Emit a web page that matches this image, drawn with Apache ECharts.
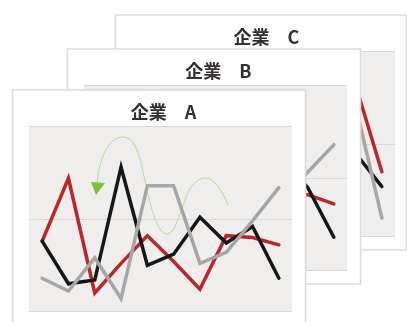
<!DOCTYPE html>
<html>
<head>
<meta charset="utf-8">
<script src="https://cdn.jsdelivr.net/npm/echarts@6/dist/echarts.min.js"></script>
<style>html,body{margin:0;padding:0;background:#fff;}#c{width:407px;height:322px;}</style>
</head>
<body>
<div id="c"></div>
<script>
// ---- data ----
var categories = ['1','2','3','4','5','6','7','8','9','10'];
var cardTitles = ['企業　A', '企業　B', '企業　C'];
var seriesNames = ['赤', '黒', '灰'];
// 企業 A
var aRed   = [38, 72, 10, 26, 41, 27, 12, 41, 40, 36];
var aBlack = [38, 15, 17, 78, 25, 31, 51, 37, 46, 18];
var aGray  = [18, 11, 29, 7, 68, 68, 26, 32, 49, 67];
// 企業 B (only the right end is visible)
var bRed   = [null, null, null, null, null, null, null, 42, 41, 36];
var bBlack = [null, null, null, null, null, null, null, 60, 45, 18];
var bGray  = [null, null, null, null, null, null, null, 38, 53, 68];
// 企業 C (only the right end is visible)
var cRed   = [null, null, null, null, null, null, null, 100, 82, 35];
var cBlack = [null, null, null, null, null, null, null, 55, 45, 27];
var cGray  = [null, null, null, null, null, null, null, 100, 71, 10];
var yTicks = [0, 50, 100];

var colors = {red: '#b8282a', black: '#161616', gray: '#a6a6a6'};

// card layouts
var cards = [
  {x: 12.5, y: 90, w: 293, h: 250, z: 30, data: [aRed, aBlack, aGray]},
  {x: 67.5, y: 49, w: 293, h: 235, z: 20, data: [bRed, bBlack, bGray]},
  {x: 115.5, y: 15, w: 291, h: 235, z: 10, data: [cRed, cBlack, cGray]}
];

var grids = [], xAxes = [], yAxes = [], series = [], graphics = [];
cards.forEach(function (c, i) {
  graphics.push({
    type: 'rect', z: c.z, silent: true,
    shape: {x: c.x, y: c.y, width: c.w, height: c.h},
    style: {fill: '#ffffff', stroke: '#dcdcdc', lineWidth: 1.5}
  });
  graphics.push({
    type: 'text', z: c.z + 1, silent: true,
    x: c.x + 151, y: c.y + 22,
    style: {text: cardTitles[i], font: 'bold 18px "Noto Sans CJK JP", sans-serif',
            fill: '#383030', align: 'center', verticalAlign: 'middle'}
  });
  grids.push({
    left: c.x + 16.5, top: c.y + 36.5, width: 263, height: 185,
    show: true, backgroundColor: '#efeeed', borderWidth: 0, z: c.z + 1
  });
  xAxes.push({
    type: 'category', gridIndex: i, data: categories, boundaryGap: true,
    axisLine: {show: false}, axisTick: {show: false}, axisLabel: {show: false},
    splitLine: {show: false}, z: c.z + 2
  });
  yAxes.push({
    type: 'value', gridIndex: i, min: yTicks[0], max: yTicks[yTicks.length - 1],
    interval: yTicks[1] - yTicks[0],
    axisLine: {show: false}, axisTick: {show: false}, axisLabel: {show: false},
    splitLine: {show: true, lineStyle: {color: '#d9d9d9', width: 1}}, z: c.z + 2
  });
  var cols = [colors.red, colors.black, colors.gray];
  c.data.forEach(function (d, k) {
    series.push({
      type: 'line', name: seriesNames[k], xAxisIndex: i, yAxisIndex: i,
      data: d, showSymbol: false, symbol: 'none', connectNulls: false,
      lineStyle: {color: cols[k], width: 3.5, cap: 'round', join: 'miter'},
      z: c.z + 4, silent: true, animation: false
    });
  });
});

// decorative green arrow on card A (cubic bezier pieces)
var curvePieces = [
  [97,186, 99,155, 110,137, 123,137],
  [123,137, 138,137, 141,165, 146,185],
  [146,185, 151,210, 158,234, 167,234],
  [167,234, 178,234, 183,196, 192,186],
  [192,186, 198,179, 202,178, 205,178],
  [205,178, 214,178, 222,190, 228,205]
];
curvePieces.forEach(function (p) {
  graphics.push({
    type: 'bezierCurve', z: cards[0].z + 3, silent: true,
    shape: {x1: p[0], y1: p[1], cpx1: p[2], cpy1: p[3], cpx2: p[4], cpy2: p[5], x2: p[6], y2: p[7]},
    style: {fill: null, stroke: '#b5dc98', lineWidth: 1}
  });
});
graphics.push({
  type: 'polygon', z: cards[0].z + 3, silent: true,
  shape: {points: [[91, 182], [105, 183], [96, 195]]},
  style: {fill: '#7cc242'}
});

var chart = echarts.init(document.getElementById('c'), null, {renderer: 'canvas'});
chart.setOption({
  animation: false,
  grid: grids,
  xAxis: xAxes,
  yAxis: yAxes,
  series: series,
  graphic: graphics
});
</script>
</body>
</html>
